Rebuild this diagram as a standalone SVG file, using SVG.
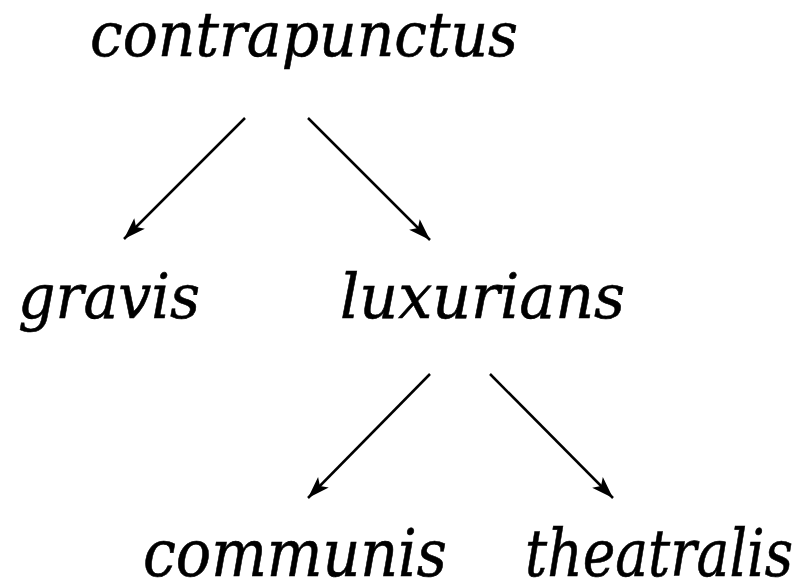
<svg xmlns="http://www.w3.org/2000/svg" width="802" height="582" viewBox="0 0 802 582">
<defs>
<style>
.lbl{font-family:"DejaVu Serif",serif;font-style:italic;font-size:62px;fill:#000;stroke:#000;stroke-width:0.6}
.big{font-size:65px}
.edge{stroke:#000;stroke-width:2.5;fill:none}
</style>
<marker id="ah" markerUnits="userSpaceOnUse" markerWidth="24" markerHeight="18" viewBox="0 0 24 18" refX="22" refY="9" orient="auto">
<path d="M0,1.5 L22,9 L0,16.5 L5,9 Z" fill="#000"/>
</marker>
</defs>
<rect width="802" height="582" fill="#fff"/>
<g id="connectors">
<line class="edge" x1="245" y1="118" x2="124" y2="239" marker-end="url(#ah)"/>
<line class="edge" x1="308" y1="118" x2="430" y2="240" marker-end="url(#ah)"/>
<line class="edge" x1="430" y1="374" x2="308" y2="498" marker-end="url(#ah)"/>
<line class="edge" x1="490" y1="374" x2="613" y2="498" marker-end="url(#ah)"/>
</g>
<g id="contrapunctus"><text class="lbl" x="90" y="56" textLength="428" lengthAdjust="spacingAndGlyphs">contrapunctus</text></g>
<g id="gravis"><text class="lbl" x="18" y="318" textLength="182" lengthAdjust="spacingAndGlyphs">gravis</text></g>
<g id="luxurians"><text class="lbl" x="340" y="318" textLength="285" lengthAdjust="spacingAndGlyphs">luxurians</text></g>
<g id="communis"><text class="lbl big" x="143" y="576" textLength="304" lengthAdjust="spacingAndGlyphs">communis</text></g>
<g id="theatralis"><text class="lbl big" x="525" y="576" textLength="268" lengthAdjust="spacingAndGlyphs">theatralis</text></g>
</svg>
